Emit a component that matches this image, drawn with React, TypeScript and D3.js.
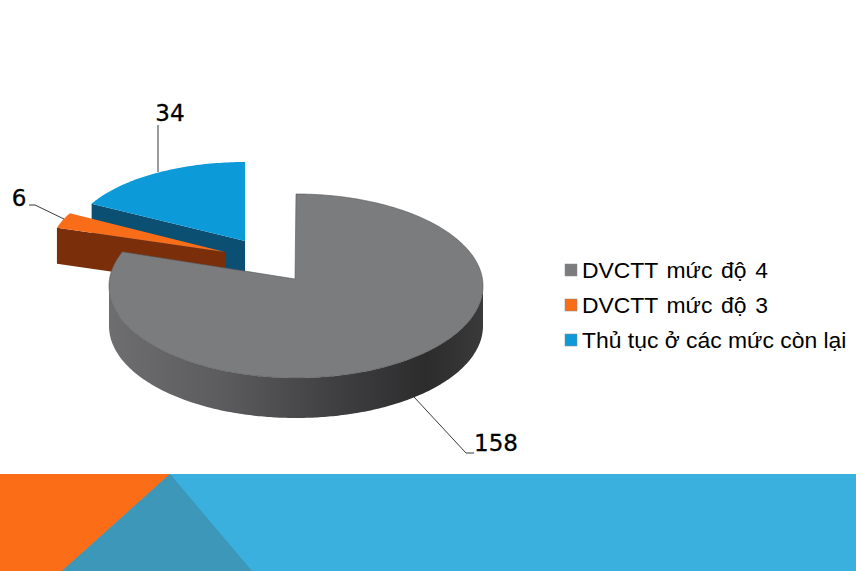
import React from "react";
import * as d3 from "d3";

const categories = ["DVCTT mức độ 4", "DVCTT mức độ 3", "Thủ tục ở các mức còn lại"];
const values = [158, 6, 34];
const topColors = ["#7b7c7e", "#f96c18", "#0c9bd8"];
const wallColors = ["#4a4a4c", "#7a2e0a", "#0b4f73"];
const legendWordSpacing = [2.3, 2.3, 0];

const width = 856;
const height = 571;

// main slice sits on the pie centre, the two small ones are pulled out
const cx = 296;
const cy = 286;
const rx = 187;
const ry = 92;
const depth = 40;
const apexLift = 7;

// warp: the 3D view squeezes angles a bit, only noticeable on the big slice
const layouts = [
  { apexX: cx - 1, apexY: cy - apexLift, cx, cy, rx, ry, depth, warp: -0.14 },
  { apexX: 225, apexY: 252, cx: 225, cy: 252, rx: 176, ry: 82, depth: 36, warp: 0 },
  { apexX: 245, apexY: 241, cx: 245, cy: 241, rx: 174, ry: 79, depth: 38, warp: 0 },
];

const pie = d3.pie<number>().sort(null).value((d) => d);
const slices = pie(values);

const project = (l: (typeof layouts)[number], a: number): [number, number] => {
  const t = a + l.warp * Math.sin(2 * a);
  return [l.cx + l.rx * Math.sin(t), l.cy - l.ry * Math.cos(t)];
};

const line = d3.line();

function rimPoints(l: (typeof layouts)[number], a0: number, a1: number) {
  const n = Math.max(2, Math.ceil(Math.abs(a1 - a0) * 60));
  return d3.range(n + 1).map((i) => project(l, a0 + ((a1 - a0) * i) / n));
}

function topPath(i: number) {
  const l = layouts[i];
  const s = slices[i];
  return line([[l.apexX, l.apexY], ...rimPoints(l, s.startAngle, s.endAngle)]) + "Z";
}

// flat cut face hanging under the slice's leading edge
function cutPath(i: number) {
  const l = layouts[i];
  const [x, y] = project(l, slices[i].startAngle);
  return (
    line([
      [l.apexX, l.apexY],
      [x, y],
      [x, y + l.depth],
      [l.apexX, l.apexY + l.depth],
    ]) + "Z"
  );
}

// outer wall of the big slice, front half of the ellipse only
function wallPath() {
  const l = layouts[0];
  const rim = rimPoints(l, Math.PI / 2, (Math.PI * 3) / 2);
  const lower = rim.map(([x, y]) => [x, y + l.depth] as [number, number]).reverse();
  return line([...rim, ...lower]) + "Z";
}

const legendY = d3.scalePoint<string>().domain(categories).range([270, 340]);

const labelFont = "'DejaVu Sans', sans-serif";
const legendFont = "'Liberation Sans', Arial, sans-serif";

export default function App() {
  return (
    <svg
      width={width}
      height={height}
      viewBox={`0 0 ${width} ${height}`}
      style={{ position: "absolute", left: 0, top: 0, background: "#fff" }}
    >
      <defs>
        <linearGradient id="wall" x1={cx - rx} x2={cx + rx} y1={0} y2={0} gradientUnits="userSpaceOnUse">
          <stop offset="0" stopColor="#6e6e70" />
          <stop offset="0.3" stopColor="#5c5c5e" />
          <stop offset="0.6" stopColor="#404042" />
          <stop offset="0.85" stopColor="#2c2c2d" />
          <stop offset="1" stopColor="#3a3a3b" />
        </linearGradient>
      </defs>

      {/* Pie, back to front */}
      <path d={cutPath(2)} fill={wallColors[2]} />
      <path d={topPath(2)} fill={topColors[2]} />
      <path d={cutPath(1)} fill={wallColors[1]} />
      <path d={topPath(1)} fill={topColors[1]} />
      <path d={wallPath()} fill="url(#wall)" />
      <path d={topPath(0)} fill={topColors[0]} stroke="#555" strokeWidth={0.6} />

      {/* Leader lines */}
      <g fill="none" stroke="#222" strokeWidth={0.9}>
        <polyline points="158,125 158,172" />
        <polyline points="29,205 35,205 64,219" />
        <polyline points="414,397 466,453 474,453" />
      </g>

      {/* Data labels */}
      <g fontFamily={labelFont} fontSize={23} fill="#000" stroke="#000" strokeWidth={0.3}>
        <text x={170} y={121} textAnchor="middle">{values[2]}</text>
        <text x={19} y={206} textAnchor="middle">{values[1]}</text>
        <text x={474} y={451}>{values[0]}</text>
      </g>

      {/* Legend */}
      {categories.map((c, i) => (
        <g key={c}>
          <rect
            x={565}
            y={legendY(c)! - 6}
            width={12}
            height={12}
            fill={topColors[i]}
            stroke="#888"
            strokeWidth={0.5}
          />
          <text
            x={582}
            y={legendY(c)! + 8}
            fontFamily={legendFont}
            fontSize={22.9}
            wordSpacing={legendWordSpacing[i]}
            fill="#000"
          >
            {c}
          </text>
        </g>
      ))}

      {/* Slide footer */}
      <rect x={0} y={474} width={width} height={97} fill="#3ab0df" />
      <polygon points="0,474 170,474 62,571 0,571" fill="#fb6e17" />
      <polygon points="170,474 62,571 252,571" fill="#3c97b8" />
    </svg>
  );
}
